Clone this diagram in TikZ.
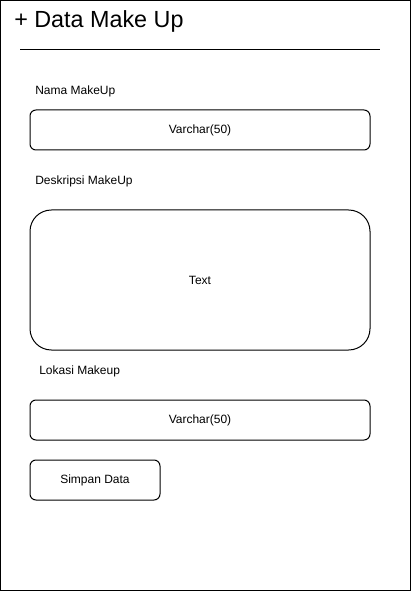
\documentclass[tikz,border=0pt]{standalone}
\usepackage{fontspec}
\setmainfont{Liberation Sans}
\begin{document}
\begin{tikzpicture}[x=0.75pt,y=-0.75pt,
  frame/.style={draw=black,line width=0.75pt},
  lbl/.style={anchor=west,inner sep=0pt,font=\fontsize{9}{10}\selectfont},
  field/.style={draw=black,line width=0.75pt,rounded corners=4.5pt,inner sep=0pt,font=\fontsize{9}{10}\selectfont},
  bigfield/.style={draw=black,line width=0.75pt,rounded corners=16pt,inner sep=0pt,font=\fontsize{9}{10}\selectfont}]
\useasboundingbox (0,0) rectangle (411,591);
\draw[frame] (0.5,0.5) rectangle (410.5,590.5);
\node[anchor=west,inner sep=0pt,font=\fontsize{17.5}{19}\selectfont] (title) at (14,21.5) {+ Data Make Up};
\coordinate (hl) at (20,50);
\coordinate (hr) at (380,50);
\draw[line width=0.75pt] (hl) -- (hr);
\node[lbl] (l1) at (35,91) {Nama MakeUp};
\node[field,minimum width=255pt,minimum height=30pt] (f1) at (200,130) {Varchar(50)};
\node[lbl] (l2) at (35,181) {Deskripsi MakeUp};
\node[bigfield,minimum width=255pt,minimum height=105pt] (f2) at (200,280) {Text};
\node[lbl] (l3) at (39,371) {Lokasi Makeup};
\node[field,minimum width=255pt,minimum height=30pt] (f3) at (200,420) {Varchar(50)};
\node[field,minimum width=97.5pt,minimum height=30pt] (btn) at (95,480) {Simpan Data};
\end{tikzpicture}
\end{document}
